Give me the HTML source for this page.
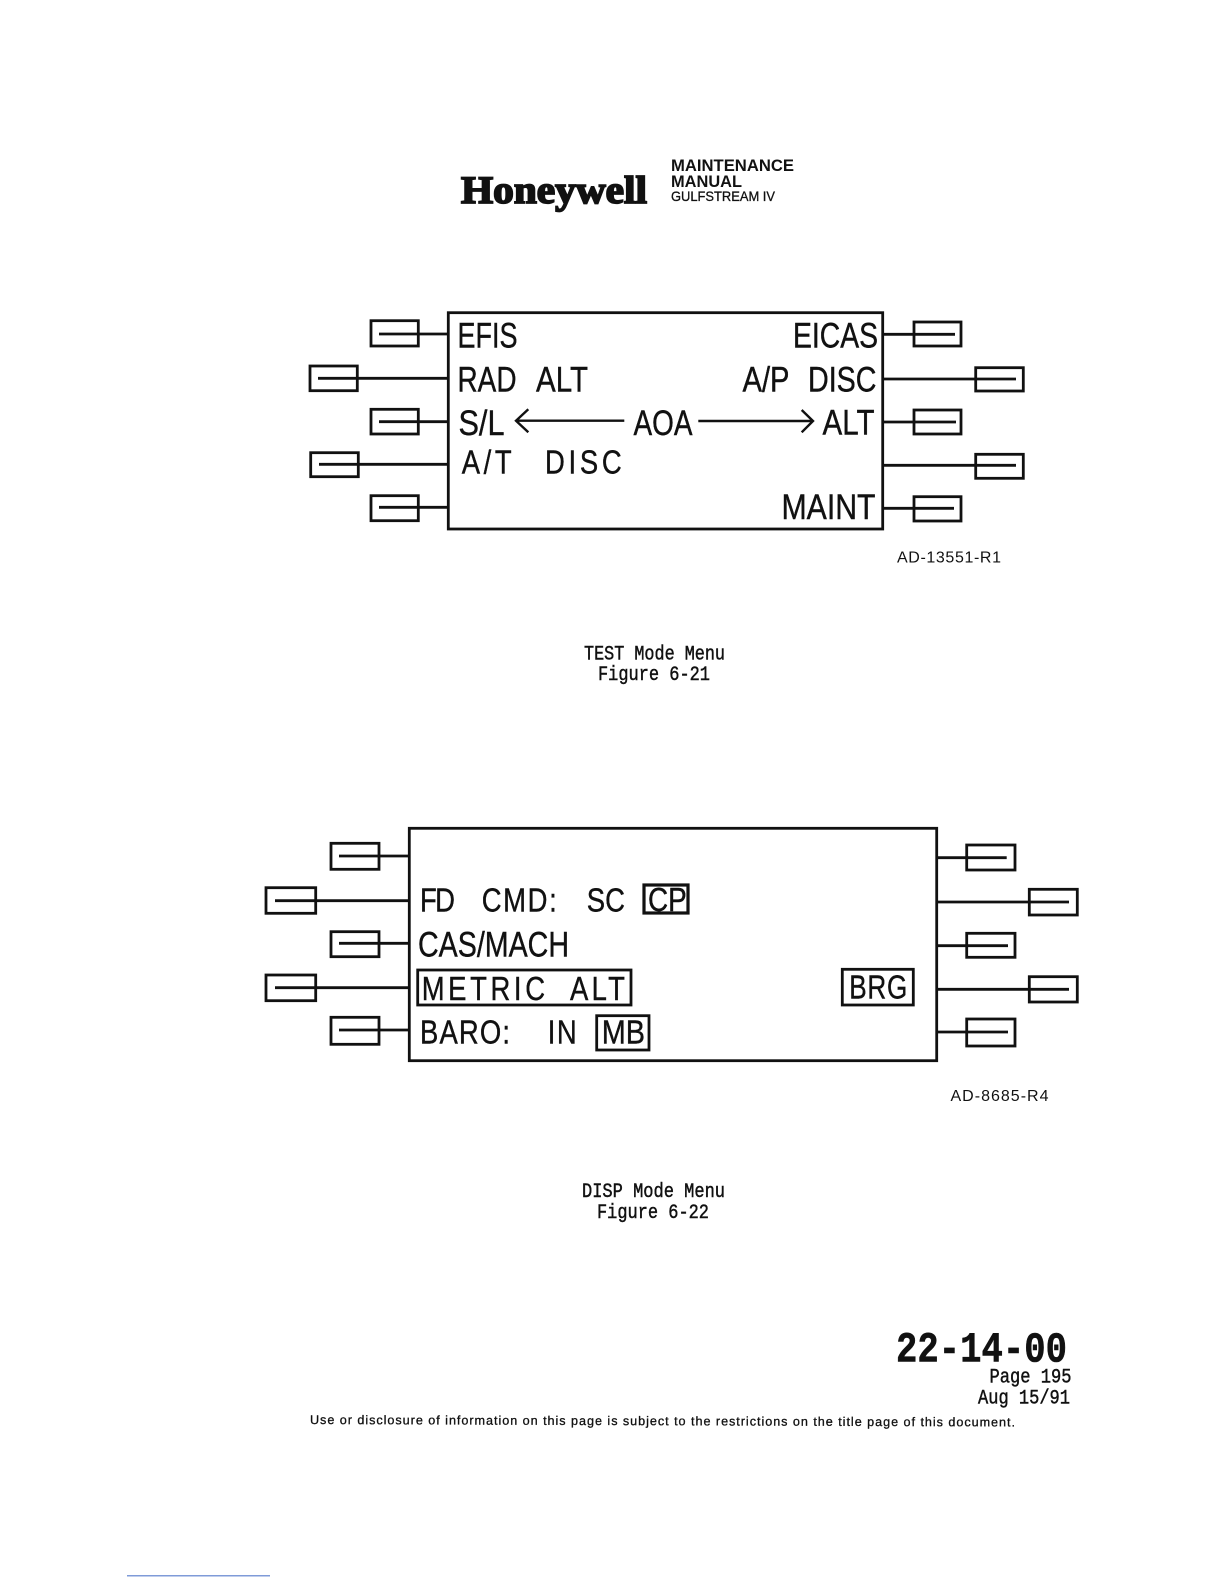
<!DOCTYPE html>
<html><head><meta charset="utf-8"><style>
html,body{margin:0;padding:0;background:#fff}
svg{display:block}
text{fill:#111;font-family:"Liberation Sans",sans-serif}
.m{font-family:"Liberation Mono",monospace;stroke:#111;stroke-width:.45px}
.l{font-size:35.500px;stroke:#111;stroke-width:.4px}
.s{font-size:33.500px;stroke:#111;stroke-width:.4px}
</style></head><body>
<svg width="1224" height="1584" viewBox="0 0 1224 1584" xmlns="http://www.w3.org/2000/svg">
<rect width="1224" height="1584" fill="#fff"/>
<text x="461" y="203" style="font-family:'Liberation Serif',serif;font-weight:bold;stroke:#111;stroke-width:1.800px" font-size="39" textLength="186" lengthAdjust="spacingAndGlyphs">Honeywell</text>
<text x="671" y="171" font-size="17" font-weight="bold" textLength="123" lengthAdjust="spacingAndGlyphs">MAINTENANCE</text>
<text x="671" y="187" font-size="17" font-weight="bold" textLength="71" lengthAdjust="spacingAndGlyphs">MANUAL</text>
<text x="671" y="201" font-size="14" textLength="104" lengthAdjust="spacingAndGlyphs" style="stroke:#111;stroke-width:.3px">GULFSTREAM IV</text>

<g fill="none" stroke="#111" stroke-width="2.800">
<rect x="448.300" y="312.700" width="434.400" height="216.300"/>
<rect x="371" y="320.700" width="47.300" height="25.300"/><path d="M379 334H448"/>
<rect x="310" y="366" width="47.300" height="24.700"/><path d="M318 378.300H448"/>
<rect x="371" y="409.300" width="47.300" height="24.700"/><path d="M379 421.700H448"/>
<rect x="310.700" y="452.700" width="47.600" height="24"/><path d="M319 464.300H448"/>
<rect x="371" y="495.700" width="47.300" height="25"/><path d="M379 507.300H448"/>
<rect x="914" y="322" width="47" height="24"/><path d="M883 334.300H955"/>
<rect x="975.700" y="367.700" width="47.600" height="23.300"/><path d="M883 379H1016"/>
<rect x="914" y="410" width="47" height="24"/><path d="M883 422H956"/>
<rect x="975.700" y="454.300" width="47.600" height="24"/><path d="M883 465.300H1016"/>
<rect x="914" y="496.700" width="47" height="24.300"/><path d="M883 508.300H954"/>
<path d="M624.300 420.700H515.500M528.300 409.300L516 420.700L528.300 432.300" stroke-width="2.400"/>
<path d="M698.300 421H812M801.700 410L813 421L801.700 432.300" stroke-width="2.400"/>

<rect x="409.300" y="828.300" width="527.400" height="232.400"/>
<rect x="331" y="843.300" width="48" height="26"/><path d="M339 856H409"/>
<rect x="266" y="887.700" width="49.700" height="25.600"/><path d="M275 900.700H409"/>
<rect x="331" y="931.700" width="48" height="25"/><path d="M339 943.300H409"/>
<rect x="266" y="975" width="49.700" height="25.700"/><path d="M275 987.700H409"/>
<rect x="331" y="1017.300" width="48" height="27"/><path d="M339 1030H409"/>
<rect x="966.700" y="845" width="48.300" height="25"/><path d="M937 857.700H1006.700"/>
<rect x="1029.300" y="889.300" width="48" height="25.700"/><path d="M937 902H1069"/>
<rect x="966.700" y="933.300" width="48.300" height="24"/><path d="M937 945.700H1008"/>
<rect x="1029.300" y="976.700" width="48" height="25.300"/><path d="M937 989.300H1069"/>
<rect x="966.700" y="1019" width="48.300" height="27"/><path d="M937 1032H1008"/>
<rect x="644" y="885" width="44" height="28" stroke-width="3.200"/>
<rect x="417.700" y="970" width="213.300" height="35"/>
<rect x="842.300" y="969.300" width="71" height="35.700"/>
<rect x="596.700" y="1015.700" width="52.300" height="34.300"/>
</g>

<g class="l">
<text x="457.500" y="347.500" textLength="60" lengthAdjust="spacingAndGlyphs">EFIS</text>
<text x="457.500" y="391.700" textLength="59" lengthAdjust="spacingAndGlyphs">RAD</text>
<text x="536" y="391.700" textLength="52" lengthAdjust="spacingAndGlyphs">ALT</text>
<text x="458.500" y="435" textLength="46" lengthAdjust="spacingAndGlyphs">S/L</text>
<text x="633.500" y="435" textLength="59" lengthAdjust="spacingAndGlyphs">AOA</text>
<text x="822.500" y="434.500" textLength="52" lengthAdjust="spacingAndGlyphs">ALT</text>
<text x="793" y="347.500" textLength="85" lengthAdjust="spacingAndGlyphs">EICAS</text>
<text x="742.500" y="391.700" textLength="47" lengthAdjust="spacingAndGlyphs">A/P</text>
<text x="808" y="391.700" textLength="68.500" lengthAdjust="spacingAndGlyphs">DISC</text>
<text x="781.500" y="519" textLength="94" lengthAdjust="spacingAndGlyphs">MAINT</text>
<text x="418" y="956.700" textLength="151" lengthAdjust="spacingAndGlyphs">CAS/MACH</text>
</g>

<g class="s">
<text transform="translate(461.700,473.500) scale(.82,1)" textLength="61">A/T</text>
<text transform="translate(545,473.500) scale(.82,1)" textLength="93.500">DISC</text>
<text transform="translate(420,911.700) scale(.82,1)" textLength="42.700">FD</text>
<text transform="translate(481.700,911.700) scale(.82,1)" textLength="91.500">CMD:</text>
<text transform="translate(586.700,911.700) scale(.82,1)" textLength="46.700">SC</text>
<text x="648" y="911" textLength="38.700" lengthAdjust="spacingAndGlyphs">CP</text>
<text transform="translate(421.700,1000) scale(.82,1)" textLength="150.400">METRIC</text>
<text transform="translate(570,1000) scale(.82,1)" textLength="67">ALT</text>
<text transform="translate(849.300,998.300) scale(.78,1)" textLength="74.400">BRG</text>
<text transform="translate(420,1043.300) scale(.82,1)" textLength="109.800">BARO:</text>
<text transform="translate(547.700,1043.300) scale(.82,1)" textLength="35.400">IN</text>
<text x="601.700" y="1043.300" textLength="43.300" lengthAdjust="spacingAndGlyphs">MB</text>
</g>

<text x="897" y="562.600" font-size="16" textLength="104" lengthAdjust="spacing">AD-13551-R1</text>
<text x="950.500" y="1101" font-size="16" textLength="98" lengthAdjust="spacing">AD-8685-R4</text>

<text class="m" x="584" y="659.300" font-size="20" textLength="141" lengthAdjust="spacingAndGlyphs">TEST Mode Menu</text>
<text class="m" x="598" y="680" font-size="20" textLength="112" lengthAdjust="spacingAndGlyphs">Figure 6-21</text>
<text class="m" x="582" y="1197" font-size="20" textLength="143" lengthAdjust="spacingAndGlyphs">DISP Mode Menu</text>
<text class="m" x="597" y="1218" font-size="20" textLength="112" lengthAdjust="spacingAndGlyphs">Figure 6-22</text>

<text class="m" x="896" y="1361.700" font-size="43" font-weight="bold" textLength="171" lengthAdjust="spacingAndGlyphs" style="stroke-width:.6px">22-14-00</text>
<text class="m" x="989.500" y="1382.500" font-size="20" textLength="82" lengthAdjust="spacingAndGlyphs">Page 195</text>
<text class="m" x="978" y="1403.500" font-size="20" textLength="92" lengthAdjust="spacingAndGlyphs">Aug 15/91</text>
<text x="310" y="1424" font-size="12.600" textLength="705" lengthAdjust="spacing" transform="rotate(0.2 310 1424)" style="stroke:#111;stroke-width:.3px">Use or disclosure of information on this page is subject to the restrictions on the title page of this document.</text>
<rect x="127" y="1575" width="143" height="1.500" fill="#7f9bd8"/>
</svg>
</body></html>
